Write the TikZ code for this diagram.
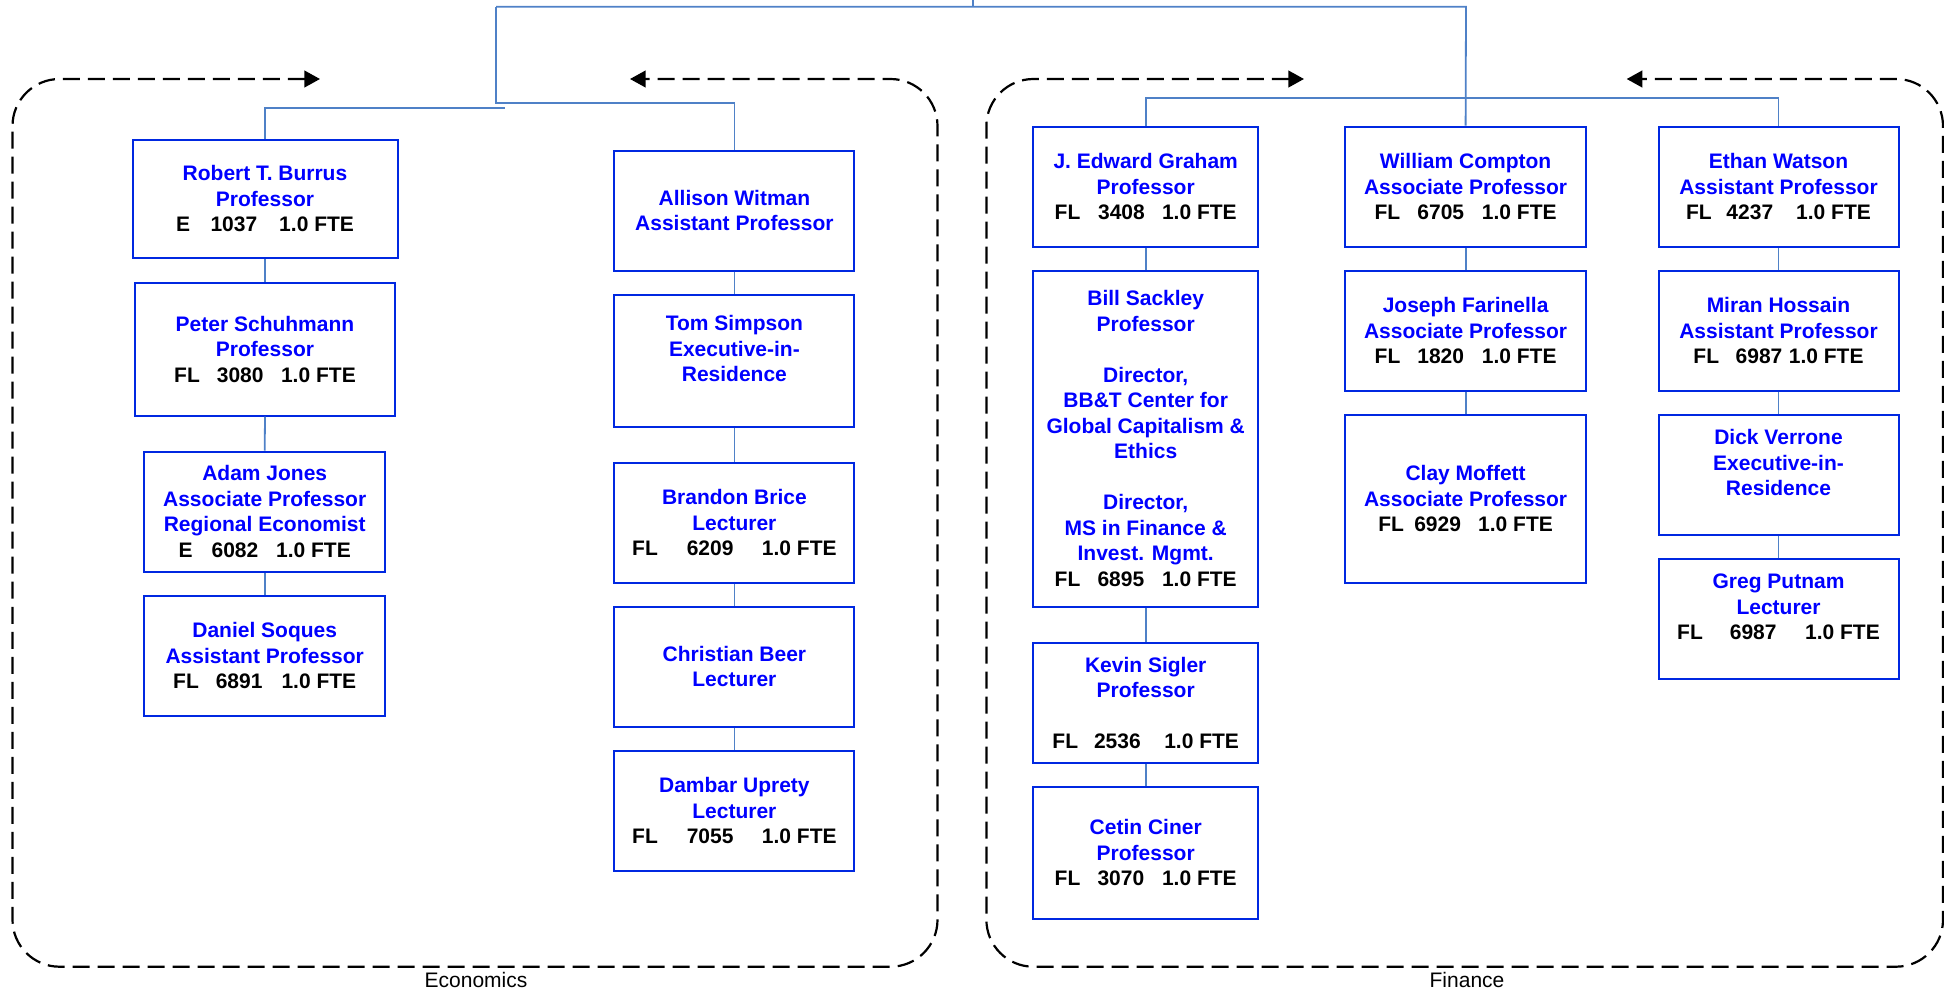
\documentclass[tikz,border=0pt]{standalone}
\usepackage{fontspec}
\setmainfont{Liberation Sans}
\usetikzlibrary{arrows.meta}
\definecolor{boxblue}{RGB}{0,40,225}
\definecolor{txtblue}{RGB}{0,0,255}
\definecolor{linkblue}{RGB}{79,129,199}
\newcommand{\nl}[4]{\textcolor{black}{#1\hspace*{#2pt}#3\hspace*{#4pt}1.0 FTE}}
\newcommand{\trail}{\rule[-12pt]{0pt}{0pt}}
\tikzset{
  pbox/.style 2 args={draw=boxblue, line width=1pt, inner sep=0pt, align=center,
    text=txtblue, font=\fontsize{10.5}{12.75}\selectfont\bfseries,
    minimum width={#1*0.5pt}, minimum height={#2*0.5pt}},
  link/.style={draw=linkblue, line width=0.9pt},
  grp/.style={draw=black, line width=1.1pt, dash pattern=on 8.5pt off 4pt,
    rounded corners=23.5pt,
    {Triangle[length=7.8pt,width=8.3pt]}-{Triangle[length=7.8pt,width=8.3pt]}},
  lbl/.style={font=\fontsize{10.5}{12.75}\selectfont, text=black, inner sep=0pt}
}
\begin{document}
\begin{tikzpicture}[x=0.5pt,y=-0.5pt]
\useasboundingbox (0,0) rectangle (1944,996);

% group frames
\draw[grp] (320,79) -- (12.5,79) -- (12.5,966.7) -- (937.5,966.7) -- (937.5,79) -- (630,79);
\draw[grp] (1304,79) -- (986.4,79) -- (986.4,966.7) -- (1943,966.7) -- (1943,79) -- (1626.7,79);
\node[lbl] (ecolbl) at (476,980) {Economics};
\node[lbl] (finlbl) at (1467,980) {Finance};

% Economics column 1
\node[pbox={265}{118}] (rob) at (265,199) {Robert T. Burrus\\Professor\\\nl{E}{10.25}{1037}{11}};
\node[pbox={260}{132.4}] (pet) at (265,349.5) {Peter Schuhmann\\Professor\\\nl{FL}{8.5}{3080}{8.75}};
\node[pbox={240.6}{120}] (ada) at (264.7,511.7) {Adam Jones\\Associate Professor\\Regional Economist\\\nl{E}{9.5}{6082}{8.9}};
\node[pbox={240.6}{120}] (dan) at (264.7,655.7) {Daniel Soques\\Assistant Professor\\\nl{FL}{8.5}{6891}{9.5}};

% Economics column 2
\node[pbox={240}{120}] (all) at (734.4,210.7) {Allison Witman\\Assistant Professor};
\node[pbox={240}{132}] (tom) at (734.4,360.7) {Tom Simpson\\Executive-in-\\Residence\trail};
\node[pbox={240}{120}] (bra) at (734.4,522.7) {Brandon Brice\\Lecturer\\\nl{FL}{14.5}{6209}{14.2}};
\node[pbox={240}{120}] (chr) at (734.4,666.7) {Christian Beer\\Lecturer};
\node[pbox={240}{120.3}] (dam) at (734.4,810.8) {Dambar Uprety\\Lecturer\\\nl{FL}{14.5}{7055}{14.2}};

% Finance column 1
\node[pbox={224.6}{120}] (jed) at (1145.7,186.7) {J. Edward Graham\\Professor\\\nl{FL}{8.9}{3408}{8.6}};
\node[pbox={224.6}{336}] (bil) at (1145.7,438.7) {Bill Sackley\\Professor\\[12.75pt]Director,\\BB\&T Center for\\Global Capitalism \&\\Ethics\\[12.75pt]Director,\\MS in Finance \&\\Invest. Mgmt.\\\nl{FL}{8.6}{6895}{8.9}};
\node[pbox={224.6}{120.3}] (kev) at (1145.7,702.8) {Kevin Sigler\\Professor\\[12.75pt]\nl{FL}{8}{2536}{11.75}};
\node[pbox={224.6}{132.3}] (cet) at (1145.7,852.8) {Cetin Ciner\\Professor\\\nl{FL}{8.6}{3070}{8.9}};

% Finance column 2
\node[pbox={240.3}{120}] (wil) at (1465.6,186.7) {William Compton\\Associate Professor\\\nl{FL}{8.6}{6705}{8.9}};
\node[pbox={240.3}{120}] (jos) at (1465.6,330.7) {Joseph Farinella\\Associate Professor\\\nl{FL}{8.5}{1820}{8.9}};
\node[pbox={240.3}{168}] (cla) at (1465.6,498.7) {Clay Moffett\\Associate Professor\\\nl{FL}{5.15}{6929}{8.6}};

% Finance column 3
\node[pbox={240}{120}] (eth) at (1778.5,186.7) {Ethan Watson\\Assistant Professor\\\nl{FL}{7.35}{4237}{11.5}};
\node[pbox={240}{120}] (mir) at (1778.5,330.7) {Miran Hossain\\Assistant Professor\\\nl{FL}{8.3}{6987}{3.25}};
\node[pbox={240}{120}] (dic) at (1778.5,474.7) {Dick Verrone\\Executive-in-\\Residence\trail};
\node[pbox={240}{120}] (gre) at (1778.5,618.7) {Greg Putnam\\Lecturer\\\nl{FL}{13.5}{6987}{14.25}\trail};

% connectors
\coordinate (top) at (972.6,0);
\coordinate (topj) at (972.6,6.7);
\coordinate (ecoL) at (496,6.7);
\coordinate (finR) at (1466,6.7);
\coordinate (ecoJ) at (496,102.7);
\coordinate (ecoRob) at (505,108.3);
\coordinate (finJ) at (1145.7,97.7);

\draw[link] (top) -- (topj);
\draw[link] (ecoL) -- (finR) -- (wil.north);
\draw[link] (ecoL) -- (ecoJ) -| (all.north);
\draw[link] (rob.north) |- (ecoRob);
\draw[link] (jed.north) -- (finJ) -| (eth.north);

\draw[link] (rob.south) -- (pet.north);
\draw[link] (pet.south) -- (ada.north);
\draw[link] (ada.south) -- (dan.north);
\draw[link] (all.south) -- (tom.north);
\draw[link] (tom.south) -- (bra.north);
\draw[link] (bra.south) -- (chr.north);
\draw[link] (chr.south) -- (dam.north);
\draw[link] (jed.south) -- (bil.north);
\draw[link] (bil.south) -- (kev.north);
\draw[link] (kev.south) -- (cet.north);
\draw[link] (wil.south) -- (jos.north);
\draw[link] (jos.south) -- (cla.north);
\draw[link] (eth.south) -- (mir.north);
\draw[link] (mir.south) -- (dic.north);
\draw[link] (dic.south) -- (gre.north);
\end{tikzpicture}
\end{document}
